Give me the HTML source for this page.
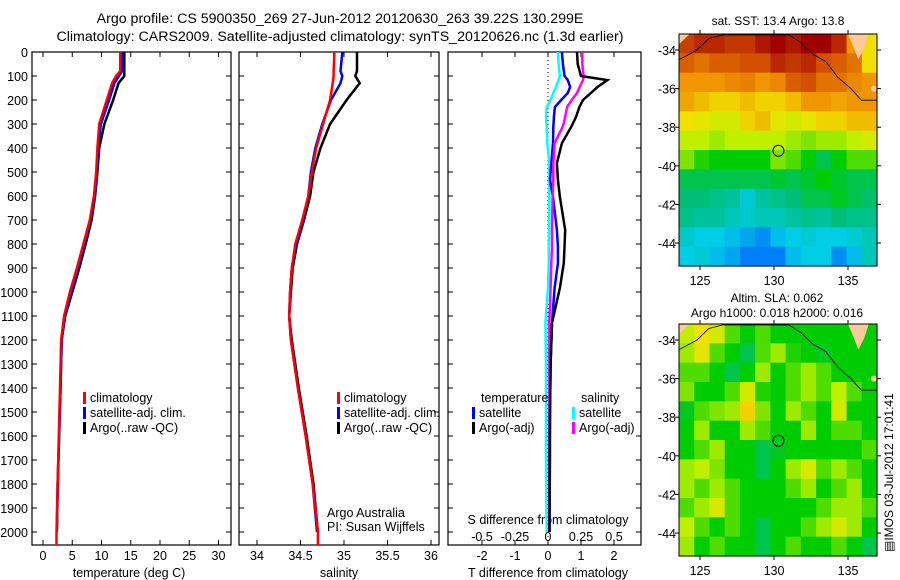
<!DOCTYPE html>
<html><head><meta charset="utf-8">
<style>
html,body{margin:0;padding:0;background:#fff;}
svg{display:block;font-family:"Liberation Sans",sans-serif;}
text{fill:#000;}
</style></head>
<body>
<svg id="fig" width="900" height="580" viewBox="0 0 900 580" xmlns="http://www.w3.org/2000/svg">
<text x="340" y="23" font-size="14.2" text-anchor="middle">Argo profile: CS 5900350_269 27-Jun-2012 20120630_263 39.22S 130.299E</text>
<text x="340" y="41" font-size="14.2" text-anchor="middle">Climatology: CARS2009. Satellite-adjusted climatology: synTS_20120626.nc (1.3d earlier)</text>
<g id="g"></g>
</svg>
<script>
// ---- profile data ----
const depths = [0,80,100,130,200,300,400,500,600,700,800,900,1000,1100,1200,1400,1600,1800,2000];
const tempClim = [13.2,13.2,12.5,11.8,10.9,9.6,9.3,9.1,8.7,8.0,6.9,5.8,4.6,3.6,3.1,2.9,2.7,2.5,2.3];
const tempSat  = [13.5,13.5,13.0,12.2,11.3,9.9,9.4,9.2,8.8,8.1,7.1,6.0,4.8,3.7,3.2,3.0,2.75,2.55,2.35];
const tempArgo = [13.9,13.9,13.9,12.9,12.0,10.5,9.6,9.3,8.9,8.3,7.3,6.2,5.0,3.8,3.2,3.0,2.75,2.5,2.4];
const salClim = [34.89,34.88,34.88,34.87,34.84,34.76,34.68,34.63,34.59,34.52,34.44,34.40,34.38,34.37,34.39,34.47,34.56,34.64,34.70];
const salSat  = [34.98,34.96,34.98,34.96,34.85,34.75,34.67,34.62,34.59,34.53,34.45,34.40,34.38,34.37,34.39,34.47,34.56,34.64,34.69];
const salArgo = [35.15,35.15,35.13,35.18,35.03,34.84,34.73,34.65,34.61,34.54,34.46,34.41,34.39,34.37,34.40,34.48,34.57,34.65,34.70];
// ---- difference data ----
const diffDepths = [0,50,100,117,146,171,200,229,271,296,313,380,463,533,604,742,812,879,983,1129,1300,1500,1700,1900,2000];
const dTempArgo = [0.88,0.9,1.0,1.8,1.5,1.3,1.06,0.95,0.85,0.76,0.7,0.42,0.27,0.3,0.36,0.52,0.5,0.48,0.36,0.12,0.08,0.06,0.05,0.05,0.04];
const dTempSat  = [0.42,0.45,0.5,0.6,0.67,0.6,0.4,0.21,0.18,0.17,0.16,0.15,0.1,0.06,0.15,0.27,0.3,0.3,0.2,0.12,0.08,0.06,0.06,0.05,0.05];
const dSalArgo  = [0.26,0.26,0.27,0.265,0.24,0.22,0.18,0.145,0.13,0.12,0.11,0.05,0.04,0.04,0.035,0.03,0.03,0.025,0.02,0.01,0.01,0.01,0.01,0.01,0.01];
const dSalSat   = [0.075,0.08,0.09,0.08,0.06,0.04,0.02,-0.01,-0.015,-0.012,-0.01,-0.005,0.01,0.01,0.01,0.008,0.006,0.005,0,-0.02,-0.015,-0.015,-0.015,-0.012,-0.01];
// ---- ticks ----
const depthTicks = [0,100,200,300,400,500,600,700,800,900,1000,1100,1200,1300,1400,1500,1600,1700,1800,1900,2000];
const tempTicks = [0,5,10,15,20,25,30];
const salTicks = [34,34.5,35,35.5,36];
const tDiffTicks = [-2,-1,0,1,2];
const sDiffTicks = [-0.5,-0.25,0,0.25,0.5];
const sDiffLabels = ["-0.5","-0.25","0","0.25","0.5"];
const lonTicks = [125,130,135];
const latTicks = [-34,-36,-38,-40,-42,-44];
// ---- map grids (rows north->south, 13 cols west->east), colormap index 0..1 ----
const sstGrid = [
[.92,.95,.95,.93,.93,.97,1,.97,1,1,.95,.8,.7],
[.88,.85,.88,.88,.9,.9,.95,.93,.95,.9,.88,.85,.7],
[.8,.8,.8,.82,.83,.8,.82,.88,.9,.85,.85,.82,.8],
[.78,.75,.72,.72,.75,.72,.72,.75,.8,.8,.78,.8,.8],
[.7,.68,.65,.65,.72,.75,.68,.65,.68,.72,.72,.75,.75],
[.62,.62,.6,.62,.62,.62,.62,.6,.58,.6,.6,.62,.65],
[.58,.52,.5,.5,.5,.5,.58,.55,.5,.45,.5,.55,.55],
[.45,.45,.45,.45,.45,.45,.47,.45,.47,.5,.47,.45,.45],
[.42,.42,.4,.38,.32,.38,.4,.42,.45,.45,.48,.45,.43],
[.4,.38,.38,.35,.33,.35,.35,.38,.4,.38,.42,.4,.4],
[.33,.3,.3,.28,.25,.22,.28,.3,.32,.3,.3,.32,.35],
[.3,.32,.28,.25,.2,.2,.2,.28,.3,.3,.22,.28,.35]];
const slaGrid = [
[.62,.7,.65,.55,.5,.55,.5,.5,.5,.5,.5,.5,.5],
[.6,.68,.55,.5,.45,.55,.6,.52,.5,.48,.5,.5,.5],
[.55,.55,.5,.45,.5,.6,.5,.55,.6,.55,.5,.5,.5],
[.58,.5,.5,.55,.65,.52,.5,.55,.6,.55,.62,.55,.5],
[.48,.55,.58,.6,.72,.58,.5,.6,.55,.5,.65,.5,.5],
[.5,.6,.5,.5,.6,.55,.5,.5,.6,.5,.55,.55,.5],
[.5,.55,.6,.5,.5,.45,.48,.5,.5,.5,.5,.5,.55],
[.6,.62,.58,.5,.5,.45,.5,.6,.66,.55,.6,.55,.5],
[.6,.55,.6,.55,.5,.5,.5,.55,.6,.5,.55,.6,.5],
[.55,.6,.66,.55,.5,.5,.5,.5,.5,.55,.6,.6,.55],
[.62,.55,.5,.55,.5,.45,.5,.5,.55,.6,.65,.6,.5],
[.6,.5,.55,.5,.5,.45,.5,.55,.5,.5,.55,.5,.45]];
const floatLon = 130.299, floatLat = -39.22;

const NS="http://www.w3.org/2000/svg";
const G=document.getElementById('g');
function mk(tag,attrs,parent){const e=document.createElementNS(NS,tag);for(const k in attrs)e.setAttribute(k,attrs[k]);(parent||G).appendChild(e);return e;}
function txt(s,x,y,anchor,size,parent){const t=mk('text',{x:x,y:y,'font-size':size||12.5,'text-anchor':anchor||'start'},parent);t.textContent=s;return t;}

const PT=52, PB=545;
const yD = d => PT + d*0.24;
const xT = v => 43 + v*5.85;
const xS = v => 257 + (v-34)*87;
const xDT = v => 548 + v*33;
const xDS = v => 548 + v*132;

function panel(name,x0,x1){
  const g=mk('g',{});
  
  
  mk('rect',{x:x0,y:PT,width:x1-x0,height:PB-PT,fill:'none',stroke:'#000','stroke-width':1.2},g);
  depthTicks.forEach(d=>{const y=yD(d);mk('line',{x1:x0,x2:x0+5,y1:y,y2:y,stroke:'#000'},g);mk('line',{x1:x1-5,x2:x1,y1:y,y2:y,stroke:'#000'},g);});
  return g;
}
function xticks(g,ticks,f,labels,ly){
  ticks.forEach((v,i)=>{const x=f(v);mk('line',{x1:x,x2:x,y1:PB,y2:PB-5,stroke:'#000'},g);mk('line',{x1:x,x2:x,y1:PT,y2:PT+5,stroke:'#000'},g);txt(labels?labels[i]:String(v),x,ly,'middle',12.5,g);});
}
function line(g,name,xs,ds,fx,color,w){
  const pts=xs.map((v,i)=>fx(v).toFixed(1)+','+yD(ds[i]).toFixed(1)).join(' ');
  const p=mk('polyline',{points:pts,fill:'none',stroke:color,'stroke-width':w||2.5,'stroke-linejoin':'miter'},g);
  
  
}
function legend(g,items,x,y){
  items.forEach((it,i)=>{mk('rect',{x:x,y:y+i*15-10,width:3,height:12,fill:it[1]},g);txt(it[0],x+7,y+i*15,'start',12.5,g);});
}

// panel 1 temperature
const p1=panel('temperature-panel',32,231);
depthTicks.forEach(d=>{txt(String(d),28,yD(d)+5,'end',12.5,p1);});
xticks(p1,tempTicks,xT,null,560);
txt('temperature (deg C)',129,577,'middle',12.5,p1);
line(p1,'temperature-argo-line',tempArgo,depths.slice(0,18).concat([1990]),xT,'#000');
line(p1,'temperature-satellite-line',tempSat,depths,xT,'#0000ff');
line(p1,'temperature-climatology-line',tempClim.concat([2.3]),depths.concat([2054]),xT,'#ff0000');
legend(p1,[['climatology','#ff0000'],['satellite-adj. clim.','#0000ff'],['Argo(..raw -QC)','#000']],83,402);

// panel 2 salinity
const p2=panel('salinity-panel',239,439);
xticks(p2,salTicks,xS,null,560);
txt('salinity',339,577,'middle',12.5,p2);
line(p2,'salinity-argo-line',salArgo,depths,xS,'#000');
line(p2,'salinity-satellite-line',salSat,depths,xS,'#0000ff');
line(p2,'salinity-climatology-line',salClim.concat([34.70]),depths.concat([2054]),xS,'#ff0000');
legend(p2,[['climatology','#ff0000'],['satellite-adj. clim.','#0000ff'],['Argo(..raw -QC)','#000']],337,402);
txt('Argo Australia',327,517,'start',12.5,p2);
txt('PI: Susan Wijffels',327,531,'start',12.5,p2);

// panel 3 differences
const p3=panel('difference-panel',448,641);
xticks(p3,tDiffTicks,xDT,['-2','-1','0','1','2'],560);
sDiffTicks.forEach((v,i)=>txt(sDiffLabels[i],xDS(v),541,'middle',12.5,p3));
txt('S difference from climatology',548,524,'middle',12.5,p3);
txt('T difference from climatology',548,577,'middle',12.5,p3);
mk('line',{x1:xDT(0),x2:xDT(0),y1:PT,y2:PB,stroke:'#000','stroke-dasharray':'1,3','stroke-width':1},p3);
line(p3,'salinity-satellite-diff-line',dSalSat,diffDepths,xDS,'#00ffff');
line(p3,'temperature-satellite-diff-line',dTempSat,diffDepths,xDT,'#0000ff');
line(p3,'salinity-argo-diff-line',dSalArgo,diffDepths,xDS,'#ff00ff');
line(p3,'temperature-argo-diff-line',dTempArgo,diffDepths,xDT,'#000');
txt('temperature',481,402,'start',12.5,p3);
txt('salinity',581,402,'start',12.5,p3);
legend(p3,[['satellite','#0000ff'],['Argo(-adj)','#000']],472,417);
legend(p3,[['satellite','#00ffff'],['Argo(-adj)','#ff00ff']],572,417);

// maps
const cmapStops=[[0.15,[0,90,255]],[0.3,[0,205,230]],[0.42,[0,190,120]],[0.5,[0,205,0]],[0.62,[190,240,0]],[0.7,[240,225,0]],[0.8,[240,150,0]],[0.9,[210,80,0]],[1.0,[160,0,0]]];
function cmap(v){
  if(v<=cmapStops[0][0])return 'rgb('+cmapStops[0][1]+')';
  for(let i=1;i<cmapStops.length;i++){if(v<=cmapStops[i][0]){const a=cmapStops[i-1],b=cmapStops[i],t=(v-a[0])/(b[0]-a[0]);return 'rgb('+a[1].map((c,k)=>Math.round(c+(b[1][k]-c)*t)).join(',')+')';}}
  return 'rgb('+cmapStops[cmapStops.length-1][1]+')';
}
function drawMap(name,grid,top){
  const L=679,R=877,T=top,B=top+232;
  const lonMin=123.58,lonMax=136.96,latMax=-33.17,latMin=-45.19;
  const mx=lo=>L+(lo-lonMin)/(lonMax-lonMin)*(R-L);
  const my=la=>T+(latMax-la)/(latMax-latMin)*(B-T);
  const g=mk('g',{});
  
  
  const nr=grid.length,nc=grid[0].length;
  const dlon=(lonMax-lonMin)/nc,dlat=(latMax-latMin)/nr;
  grid.forEach((row,r)=>row.forEach((v,c)=>{
    const x0=mx(lonMin+c*dlon),x1=mx(lonMin+(c+1)*dlon),y0=my(latMax-r*dlat),y1=my(latMax-(r+1)*dlat);
    const cell=mk('rect',{x:x0.toFixed(2),y:y0.toFixed(2),width:(x1-x0+0.6).toFixed(2),height:(y1-y0+0.6).toFixed(2),fill:cmap(v)},g);
    
    
  }));
  // land
  mk('polygon',{points:`${mx(135.0)},${T} ${mx(136.4)},${T} ${mx(136.1)},${my(-33.9)} ${mx(135.7)},${my(-34.5)} ${mx(135.4)},${my(-33.9)}`,fill:'#fcc99a'},g);
  mk('polygon',{points:`${L},${T} ${mx(124.3)},${T} ${L},${my(-33.7)}`,fill:'#fcc99a'},g);
  mk('circle',{cx:mx(136.75),cy:my(-36.0),r:3,fill:'#fcc99a'},g);
  // coastline
  mk('polyline',{points:`${L},${my(-34.5)} ${mx(124.8)},${my(-34.0)} ${mx(125.6)},${my(-33.4)} ${mx(126.5)},${T+1} ${mx(131)},${T+1} ${mx(131.8)},${my(-33.6)} ${mx(132.6)},${my(-34.2)} ${mx(133.5)},${my(-34.6)} ${mx(134.3)},${my(-35.4)} ${mx(135.2)},${my(-36.0)} ${mx(135.9)},${my(-36.6)} ${R},${my(-36.6)}`,fill:'none',stroke:'#000','stroke-width':0.8},g);
  mk('rect',{x:L,y:T,width:R-L,height:B-T,fill:'none',stroke:'#000','stroke-width':1},g);
  lonTicks.forEach(lo=>{const x=mx(lo);mk('line',{x1:x,x2:x,y1:B,y2:B+4,stroke:'#000'},g);mk('line',{x1:x,x2:x,y1:T,y2:T-4,stroke:'#000'},g);txt(String(lo),x,B+19,'middle',12.5,g);});
  latTicks.forEach(la=>{const y=my(la);mk('line',{x1:L-4,x2:L,y1:y,y2:y,stroke:'#000'},g);mk('line',{x1:R,x2:R+4,y1:y,y2:y,stroke:'#000'},g);txt(String(la),L-3,y+5,'end',12.5,g);});
  const c=mk('circle',{cx:mx(floatLon),cy:my(floatLat),r:5.5,fill:'none',stroke:'#000','stroke-width':1},g);
  
  
  return g;
}
const m1=drawMap('sst-map',sstGrid,34);
txt('sat. SST: 13.4  Argo: 13.8',778,25,'middle',12,m1);
const m2=drawMap('sla-map',slaGrid,324);
txt('Altim. SLA: 0.062',777,302,'middle',12,m2);
txt('Argo h1000: 0.018 h2000: 0.016',777,317,'middle',12,m2);
const st=txt('\u25A4IMOS 03-Jul-2012 17:01:41',0,0,'start',12,G);
st.setAttribute('transform','translate(893,552) rotate(-90)');


</script>
</body></html>
